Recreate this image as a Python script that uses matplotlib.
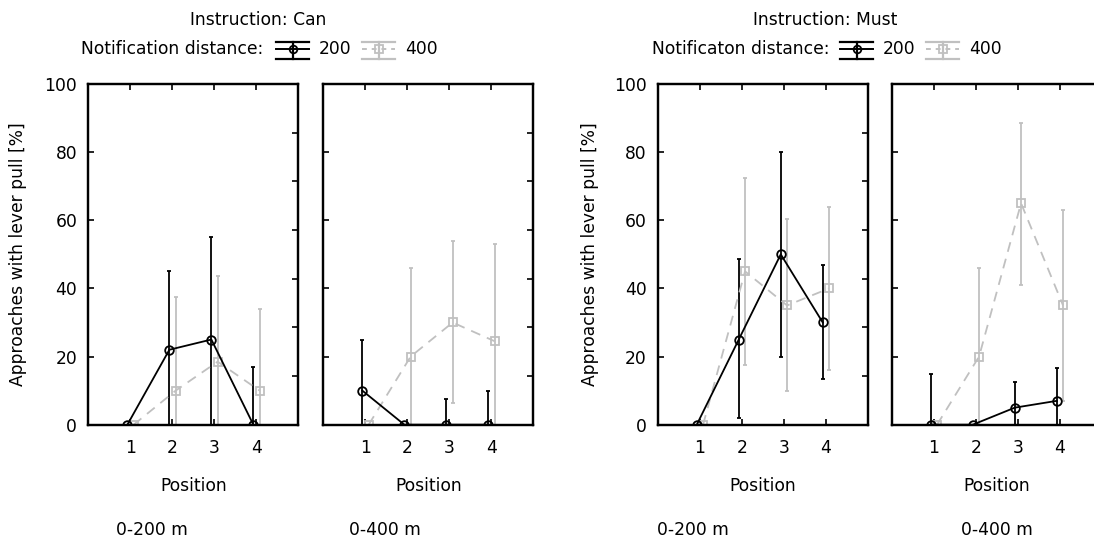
import matplotlib
matplotlib.use("Agg")
import matplotlib.pyplot as plt
from matplotlib.lines import Line2D
import numpy as np

# ---------------- data ----------------
positions = [1, 2, 3, 4]
pos_labels = ["1", "2", "3", "4"]
yticks = [0, 20, 40, 60, 80, 100]

# Instruction: Can, 0-200 m
can_near_200_mean = [0, 22, 25, 0]
can_near_200_low = [0, 0, 0, 0]
can_near_200_high = [0, 45, 55, 17]
can_near_400_mean = [0, 10, 18.5, 10]
can_near_400_low = [0, 0, 0, 0]
can_near_400_high = [0, 37.5, 43.5, 34]
# Instruction: Can, 0-400 m
can_far_200_mean = [10, 0, 0, 0]
can_far_200_low = [0, 0, 0, 0]
can_far_200_high = [25, 0, 7.5, 10]
can_far_400_mean = [0, 20, 30, 24.5]
can_far_400_low = [0, 0, 6.5, 0]
can_far_400_high = [0, 46, 54, 53]
# Instruction: Must, 0-200 m
must_near_200_mean = [0, 25, 50, 30]
must_near_200_low = [0, 2, 20, 13.5]
must_near_200_high = [0, 48.5, 80, 47]
must_near_400_mean = [0, 45, 35, 40]
must_near_400_low = [0, 17.5, 10, 16]
must_near_400_high = [0, 72.5, 60.5, 64]
# Instruction: Must, 0-400 m
must_far_200_mean = [0, 0, 5, 7]
must_far_200_low = [0, 0, 0, 0]
must_far_200_high = [15, 0, 12.5, 16.5]
must_far_400_mean = [0, 20, 65, 35]
must_far_400_low = [0, 0, 41, 7]
must_far_400_high = [0, 46, 88.5, 63]

panel_ranges = ["0-200 m", "0-400 m", "0-200 m", "0-400 m"]
instructions = ["Instruction: Can", "Instruction: Must"]
legend_titles = ["Notification distance:", "Notificaton distance:"]
dist_labels = ["200", "400"]

panels = [
    ((can_near_200_mean, can_near_200_low, can_near_200_high),
     (can_near_400_mean, can_near_400_low, can_near_400_high)),
    ((can_far_200_mean, can_far_200_low, can_far_200_high),
     (can_far_400_mean, can_far_400_low, can_far_400_high)),
    ((must_near_200_mean, must_near_200_low, must_near_200_high),
     (must_near_400_mean, must_near_400_low, must_near_400_high)),
    ((must_far_200_mean, must_far_200_low, must_far_200_high),
     (must_far_400_mean, must_far_400_low, must_far_400_high)),
]

# ---------------- style ----------------
W, H = 1094, 539
FS = 12.3
BLACK = "black"
GRAY = "#c0c0c0"
LW = 1.3
plt.rcParams["font.family"] = ["DejaVu Sans"]

fig = plt.figure(figsize=(W / 100, H / 100), dpi=100)

def px(x, y):
    return x / W, 1 - y / H

panel_left = [88.3, 323.3, 657.7, 891.7]
pw, top, bottom = 210.0, 84.0, 424.7
range_x = [152, 385, 693, 997]

off200, off400 = -0.07, 0.08
dash = (0, (5.5, 4))

for i, (left, (s200, s400)) in enumerate(zip(panel_left, panels)):
    x0, y1 = px(left, bottom)
    ax = fig.add_axes([x0, y1, pw / W, (bottom - top) / H])
    x = np.array(positions, dtype=float)
    for (mean, low, high), off, col, mk, ls, ms in [
        (s400, off400, GRAY, "s", dash, 6.2),
        (s200, off200, BLACK, "o", "-", 6.2),
    ]:
        mean = np.array(mean, dtype=float)
        yerr = np.vstack([mean - np.array(low), np.array(high) - mean])
        ax.errorbar(x + off, mean, yerr=yerr, color=col, ecolor=col,
                    marker=mk, markersize=ms, markerfacecolor="none",
                    markeredgecolor=col, markeredgewidth=1.3,
                    linestyle=ls, linewidth=LW, elinewidth=LW,
                    capsize=1.6, capthick=LW)
    ax.set_xlim(0, 5)
    ax.set_ylim(0, 100)
    ax.set_xticks(positions)
    ax.set_xticklabels(pos_labels)
    ax.set_yticks(yticks)
    ax.tick_params(axis="both", direction="in", length=4, width=1.2,
                   labelsize=FS, top=True, right=False)
    ax.tick_params(axis="x", pad=10.5)
    ax.tick_params(axis="y", pad=8)
    if i % 2 == 1:
        ax.set_yticklabels([])
    for sp in ax.spines.values():
        sp.set_linewidth(1.6)
    ax2 = ax.twinx()
    ax2.set_ylim(0, 7)
    ax2.set_yticks([1, 2, 3, 4, 5, 6])
    ax2.set_yticklabels([])
    ax2.tick_params(axis="y", direction="in", length=4, width=1.2)
    for sp in ax2.spines.values():
        sp.set_linewidth(1.6)
    ax.text(0.5, (bottom - 486) / (bottom - top), "Position", transform=ax.transAxes,
            ha="center", va="center", fontsize=FS)
    ax.text((range_x[i] - left) / pw, (bottom - 530) / (bottom - top), panel_ranges[i],
            transform=ax.transAxes, ha="center", va="center", fontsize=FS)

# y labels
for xl in [18.3, 590.0]:
    fig.text(*px(xl, 254.4), "Approaches with lever pull [%]", rotation=90,
             ha="center", va="center", fontsize=FS)

# titles and legends
group_shift = [0.0, 567.5]
sym_starts = [[276, 362], [840, 926]]
for g in range(2):
    s = group_shift[g]
    fig.text(*px(258 + s, 20), instructions[g], ha="center", va="center", fontsize=FS)
    tx_end = [263, 829][g]
    fig.text(*px(tx_end, 49.5), legend_titles[g], ha="right", va="center", fontsize=FS)
    sym = [(BLACK, "o", "-"), (GRAY, "s", (0, (2.5, 2.5)))]
    for k, ((col, mk, ls), lab) in enumerate(zip(sym, dist_labels)):
        x_a = sym_starts[g][k]
        x_b = x_a + 33
        xm = (x_a + x_b) / 2
        for yy in (41.7, 59.3):
            fig.add_artist(Line2D([px(x_a, yy)[0], px(x_b, yy)[0]],
                                  [px(x_a, yy)[1], px(x_b, yy)[1]],
                                  color=col, linewidth=1.6))
        fig.add_artist(Line2D([px(xm, 41.7)[0], px(xm, 59.3)[0]],
                              [px(xm, 41.7)[1], px(xm, 59.3)[1]],
                              color=col, linewidth=1.6))
        fig.add_artist(Line2D([px(x_a, 49.3)[0], px(x_b, 49.3)[0]],
                              [px(x_a, 49.3)[1], px(x_b, 49.3)[1]],
                              color=col, linewidth=1.4, linestyle=ls))
        fig.add_artist(Line2D([px(xm, 49.3)[0]], [px(xm, 49.3)[1]], color=col,
                              marker=mk, markersize=5.5, markerfacecolor="none",
                              markeredgewidth=1.3, linestyle="none"))
        fig.text(*px(x_b + 10, 49.5), lab, ha="left", va="center", fontsize=FS)

fig.savefig("out.png", dpi=100)
